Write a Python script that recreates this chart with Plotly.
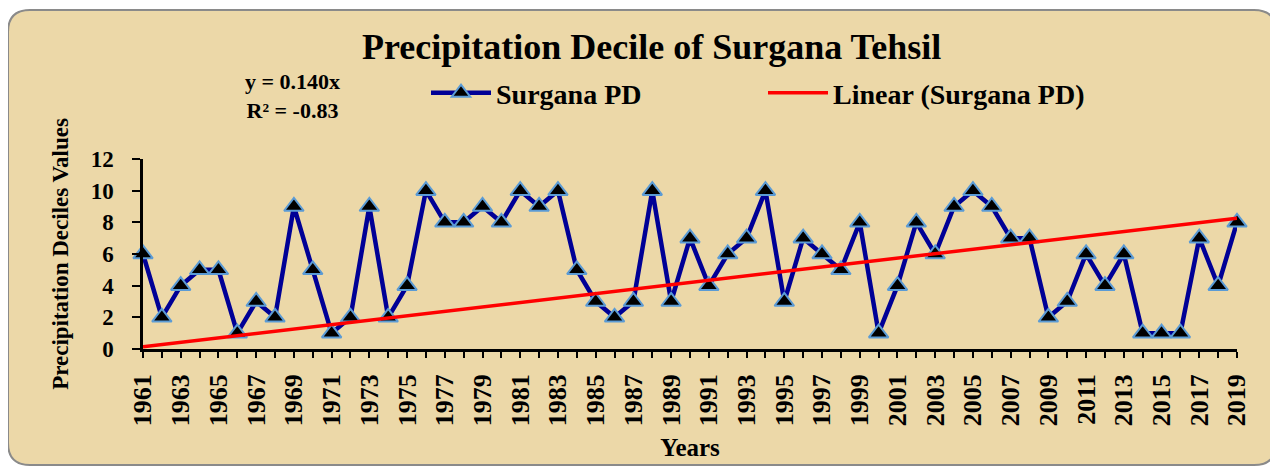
import plotly.graph_objects as go

years = list(range(1961, 2020))
pd_values = [6, 2, 4, 5, 5, 1, 3, 2, 9, 5, 1, 2, 9, 2, 4, 10, 8, 8, 9, 8,
             10, 9, 10, 5, 3, 2, 3, 10, 3, 7, 4, 6, 7, 10, 3, 7, 6, 5, 8, 1,
             4, 8, 6, 9, 10, 9, 7, 7, 2, 3, 6, 4, 6, 1, 1, 1, 7, 4, 8]
trend_slope = 0.140
trend_values = [trend_slope * (i + 1) for i in range(len(years))]
label_years = list(range(1961, 2020, 2))
y_ticks = [0, 2, 4, 6, 8, 10, 12]

# page is offset by the 8px body margin; coordinates below are figure coords
W, H = 1278, 467
L, R, T, B = 135, 49, 151, 126
pw, ph = W - L - R, H - T - B

def px(x):
    return (x - L) / pw

def py(y):
    return (H - B - y) / ph

FONT = "Liberation Serif"
BG = "#ECD8A8"

fig = go.Figure()
fig.add_trace(go.Scatter(
    x=years, y=pd_values, mode="lines+markers", name="Surgana PD",
    line=dict(color="#000096", width=4.5),
    marker=dict(symbol="triangle-up", size=17, color="black",
                line=dict(color="#5B9BD5", width=2)),
    cliponaxis=False,
))
fig.add_trace(go.Scatter(
    x=years, y=trend_values, mode="lines", name="Linear (Surgana PD)",
    line=dict(color="#FF0000", width=3.5), cliponaxis=False,
))

# card background with rounded corners
x0, y0, x1, y1 = px(0), py(2), px(1268), py(457)
rx, ry = 22 / pw, 22 / ph
path = (f"M {x0+rx},{y0} L {x1-rx},{y0} Q {x1},{y0} {x1},{y0-ry} "
        f"L {x1},{y1+ry} Q {x1},{y1} {x1-rx},{y1} L {x0+rx},{y1} "
        f"Q {x0},{y1} {x0},{y1+ry} L {x0},{y0-ry} Q {x0},{y0} {x0+rx},{y0} Z")
fig.add_shape(type="path", path=path, xref="paper", yref="paper",
              fillcolor=BG, line=dict(color="#8A8A8A", width=2), layer="below")

fig.add_annotation(text="Precipitation Decile of Surgana Tehsil",
                   x=px(643), y=py(39), xref="paper", yref="paper",
                   showarrow=False, xanchor="center", yanchor="middle",
                   font=dict(family=FONT, size=36, color="black", weight="bold"))
fig.add_annotation(text="y = 0.140x<br>R² = -0.83",
                   x=px(284), y=py(88), xref="paper", yref="paper",
                   showarrow=False, xanchor="center", yanchor="middle",
                   font=dict(family=FONT, size=22, color="black", weight="bold"))

fig.update_layout(
    width=W, height=H,
    margin=dict(l=L, r=R, t=T, b=B, autoexpand=False),
    paper_bgcolor="white", plot_bgcolor="rgba(0,0,0,0)",
    font=dict(family=FONT, color="black"),
    showlegend=True,
    legend=dict(orientation="h", x=px(418), y=py(85), xanchor="left", yanchor="middle",
                itemwidth=60, entrywidth=262, entrywidthmode="pixels",
                bgcolor="rgba(0,0,0,0)",
                font=dict(family=FONT, size=28, color="black", weight="bold")),
    xaxis=dict(range=[1961, 2019], tickmode="array", tickvals=label_years,
               ticktext=[str(y) for y in label_years], tickangle=-90,
               ticks="outside", ticklen=6, tickwidth=2, tickcolor="black",
               ticklabelstandoff=6,
               minor=dict(dtick=1, tick0=1961, ticks="outside", ticklen=6,
                          tickwidth=2, tickcolor="black", showgrid=False),
               showline=True, linecolor="black", linewidth=2.5, showgrid=False,
               zeroline=False, automargin=False,
               tickfont=dict(family=FONT, size=26, color="black", weight="bold"),
               title=dict(text="Years", standoff=14,
                          font=dict(family=FONT, size=25, color="black", weight="bold"))),
    yaxis=dict(range=[0, 12], tickmode="array", tickvals=y_ticks,
               ticks="outside", ticklen=8, tickwidth=2, tickcolor="black",
               ticklabelstandoff=14,
               showline=True, linecolor="black", linewidth=2.5, showgrid=False,
               zeroline=False, automargin=False,
               tickfont=dict(family=FONT, size=23, color="black", weight="bold"),
               title=dict(text="Precipitation Deciles Values", standoff=16,
                          font=dict(family=FONT, size=23, color="black", weight="bold"))),
)

fig.write_html("out.html")
